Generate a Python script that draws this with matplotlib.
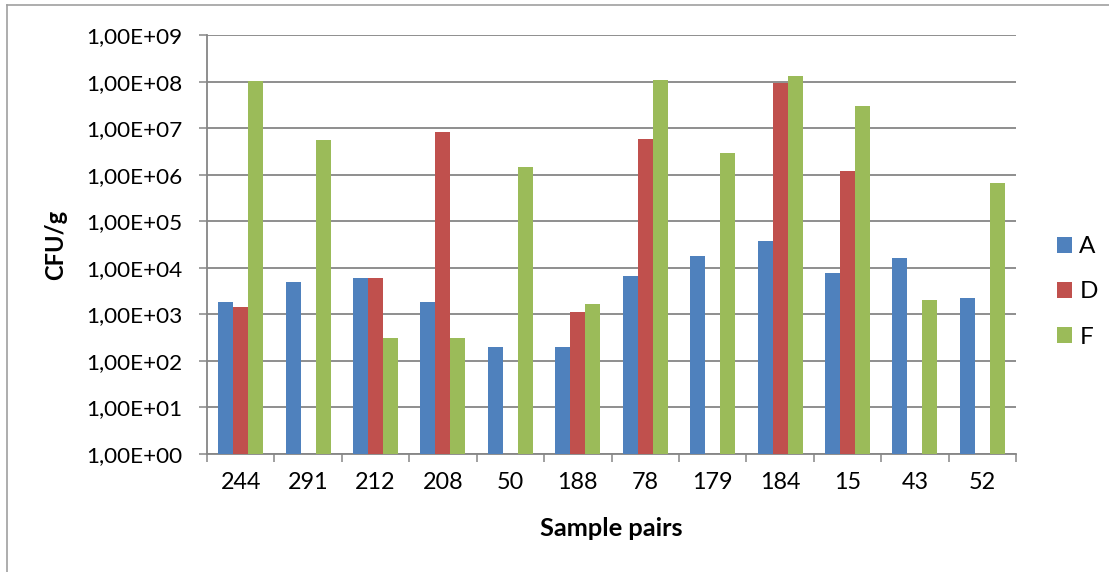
import numpy as np
import matplotlib
matplotlib.use("Agg")
import matplotlib.pyplot as plt
from matplotlib.lines import Line2D

# values (CFU/g), None = no bar
samples = ["244", "291", "212", "208", "50", "188", "78", "179", "184", "15", "43", "52"]
series_names = ["A", "D", "F"]
A = [1800, 4900, 6100, 1800, 200, 200, 6700, 17600, 37000, 7800, 16000, 2200]
D = [1400, None, 6000, 8.4e6, None, 1100, 5.9e6, None, 9.6e7, 1.2e6, None, None]
F = [1.05e8, 5.5e6, 300, 300, 1.5e6, 1700, 1.1e8, 2.9e6, 1.33e8, 3.0e7, 2050, 6.8e5]
y_ticks = [1e0, 1e1, 1e2, 1e3, 1e4, 1e5, 1e6, 1e7, 1e8, 1e9]
y_tick_labels = ["1,00E+00", "1,00E+01", "1,00E+02", "1,00E+03", "1,00E+04",
                 "1,00E+05", "1,00E+06", "1,00E+07", "1,00E+08", "1,00E+09"]

colors = ["#4F81BD", "#C0504D", "#9BBB59"]
grid_col = "#868686"

W, H = 1109, 572
plt.rcParams['font.family'] = ['Lato', 'DejaVu Sans']

fig = plt.figure(figsize=(W / 100, H / 100), dpi=100)
# plot area in pixels: x 207..1016, y 35.3..453.7
ax = fig.add_axes([207 / W, 1 - 453.7 / H, (1016 - 207) / W, (453.7 - 35.3) / H])

x = np.arange(len(samples)) + 0.5
bw = 0.2225
for k, vals in enumerate([A, D, F]):
    h = np.array([np.nan if v is None else v for v in vals], dtype=float)
    ax.bar(x + (k - 1) * bw, h, width=bw, bottom=1, color=colors[k], label=series_names[k], zorder=3)

ax.set_yscale("log")
ax.set_ylim(1, 1e9)
ax.set_xlim(0, len(samples))
ax.set_yticks(y_ticks)
ax.set_yticklabels(y_tick_labels)
ax.yaxis.set_minor_locator(matplotlib.ticker.NullLocator())
ax.grid(axis="y", color=grid_col, linewidth=1.3, zorder=0)

ax.set_xticks(np.arange(len(samples) + 1))
ax.set_xticklabels([])
ax.set_xticks(x, minor=True)
ax.set_xticklabels(samples, minor=True)
ax.tick_params(axis="x", which="major", length=5.8, width=1.1, color=grid_col, direction="out")
ax.tick_params(axis="x", which="minor", length=0, labelsize=16.8, pad=13)
ax.tick_params(axis="y", which="major", length=5.8, width=1.1, color=grid_col, labelsize=16.2, pad=12)

for s in ["top", "right"]:
    ax.spines[s].set_visible(False)
for s in ["left", "bottom"]:
    ax.spines[s].set_color(grid_col)
    ax.spines[s].set_linewidth(1.3)

fig.text(611 / W, 1 - 528 / H, "Sample pairs", ha="center", va="center", fontsize=18.3, fontweight="bold")
fig.text(56 / W, 1 - 245 / H, "CFU/g", ha="center", va="center", rotation=90, fontsize=17, fontweight="bold")

ax.legend(loc="center left", bbox_to_anchor=(1057 / W, 1 - 292 / H), bbox_transform=fig.transFigure,
          frameon=False, fontsize=17.5, handlelength=0.62, handleheight=0.62,
          handletextpad=0.3, labelspacing=1.0, borderpad=0, borderaxespad=0)

# outer chart border (left and top edges visible)
fig.add_artist(Line2D([7 / W, 7 / W], [0, 1 - 5 / H], color="#A0A0A0", linewidth=1.2))
fig.add_artist(Line2D([7 / W, 1], [1 - 5 / H, 1 - 5 / H], color="#A0A0A0", linewidth=1.2))

fig.savefig("out.png", dpi=100)
